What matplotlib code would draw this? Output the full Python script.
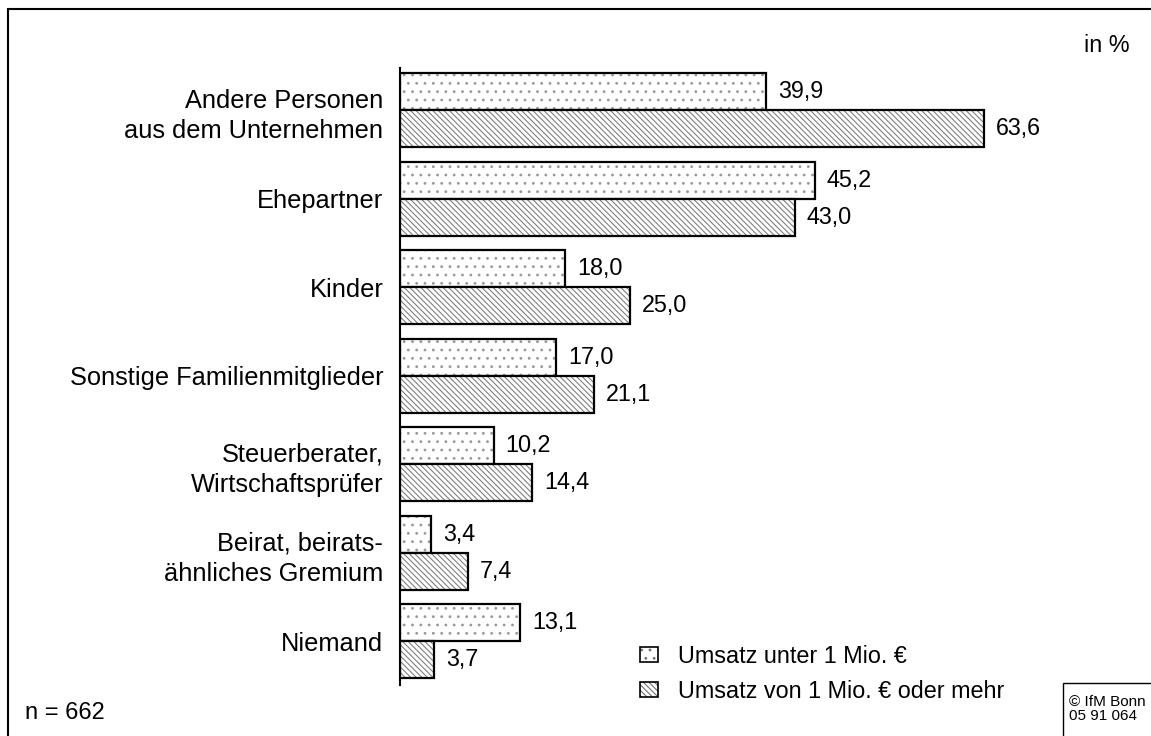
import matplotlib
matplotlib.use("Agg")
import matplotlib.pyplot as plt
from matplotlib.patches import Patch, Rectangle
from matplotlib.legend_handler import HandlerTuple

plt.rcParams['font.family'] = ['Liberation Sans', 'DejaVu Sans']
plt.rcParams['hatch.linewidth'] = 0.8

categories = ["Andere Personen\naus dem Unternehmen", "Ehepartner", "Kinder",
              "Sonstige Familienmitglieder", "Steuerberater,\nWirtschaftsprüfer",
              "Beirat, beirats-\nähnliches Gremium", "Niemand"]
unter_1mio = [39.9, 45.2, 18.0, 17.0, 10.2, 3.4, 13.1]
ab_1mio = [63.6, 43.0, 25.0, 21.1, 14.4, 7.4, 3.7]
series_names = ["Umsatz unter 1 Mio. €", "Umsatz von 1 Mio. € oder mehr"]

W, H = 1151, 736
fig = plt.figure(figsize=(W / 100, H / 100), dpi=100)
ax = fig.add_axes([400 / W, 1 - 685 / H, 688.5 / W, (685 - 68) / H])

ypos = list(range(len(categories)))
bh = 0.418
y_top = [y - bh / 2 for y in ypos]
y_bot = [y + bh / 2 for y in ypos]

dots = ".."
diag = "\\" * 6

# hatch fill (gray), then black outline on top
ax.barh(y_top, unter_1mio, height=bh, color="white", edgecolor="0.6", linewidth=0, hatch=dots)
ax.barh(y_top, unter_1mio, height=bh, fill=False, edgecolor="black", linewidth=1.6)
ax.barh(y_bot, ab_1mio, height=bh, color="white", edgecolor="0.5", linewidth=0, hatch=diag)
ax.barh(y_bot, ab_1mio, height=bh, fill=False, edgecolor="black", linewidth=1.6)

for y, v in zip(y_top, unter_1mio):
    ax.text(v + 1.3, y, f"{v:.1f}".replace(".", ","), va="center", ha="left", fontsize=16.8)
for y, v in zip(y_bot, ab_1mio):
    ax.text(v + 1.3, y, f"{v:.1f}".replace(".", ","), va="center", ha="left", fontsize=16.8)

ax.set_xlim(0, 75)
ax.set_ylim(6.497, -0.475)
ax.set_yticks(ypos)
ax.set_yticklabels(categories, fontsize=18.3)
for lbl in ax.get_yticklabels():
    lbl.set_linespacing(1.35)
ax.tick_params(axis="y", length=0, pad=12)
ax.set_xticks([])
for s in ["top", "right", "bottom"]:
    ax.spines[s].set_visible(False)
ax.spines["left"].set_linewidth(1.5)

# legend
h1 = (Patch(facecolor="white", edgecolor="0.45", linewidth=0, hatch=dots),
      Patch(fill=False, edgecolor="black", linewidth=1.2))
h2 = (Patch(facecolor="white", edgecolor="0.45", linewidth=0, hatch=diag),
      Patch(fill=False, edgecolor="black", linewidth=1.2))
fig.legend([h1, h2], series_names, loc="upper left",
           bbox_to_anchor=(640 / W, 1 - 645 / H), bbox_transform=fig.transFigure,
           frameon=False, fontsize=16.8, borderpad=0, borderaxespad=0,
           handlelength=0.75, handleheight=0.6, handletextpad=0.9, labelspacing=0.5,
           handler_map={tuple: HandlerTuple(ndivide=1)})

# texts and frames
fig.text(1130 / W, 1 - 45 / H, "in %", ha="right", va="center", fontsize=16.8)
fig.text(25 / W, 1 - 713 / H, "n = 662", ha="left", va="center", fontsize=17)
fig.patches.append(Rectangle((8 / W, -0.1), 1.0, 1.1 - 9 / H, transform=fig.transFigure,
                             fill=False, edgecolor="black", linewidth=1.5))
fig.patches.append(Rectangle((1063 / W, -0.1), 0.2, 0.1 + 1 - 683 / H, transform=fig.transFigure,
                             fill=False, edgecolor="black", linewidth=1.0))
fig.text(1069 / W, 1 - 695 / H, "© IfM Bonn\n05 91 064", ha="left", va="top",
         fontsize=11, linespacing=1.0)

fig.savefig("out.png", dpi=100)
